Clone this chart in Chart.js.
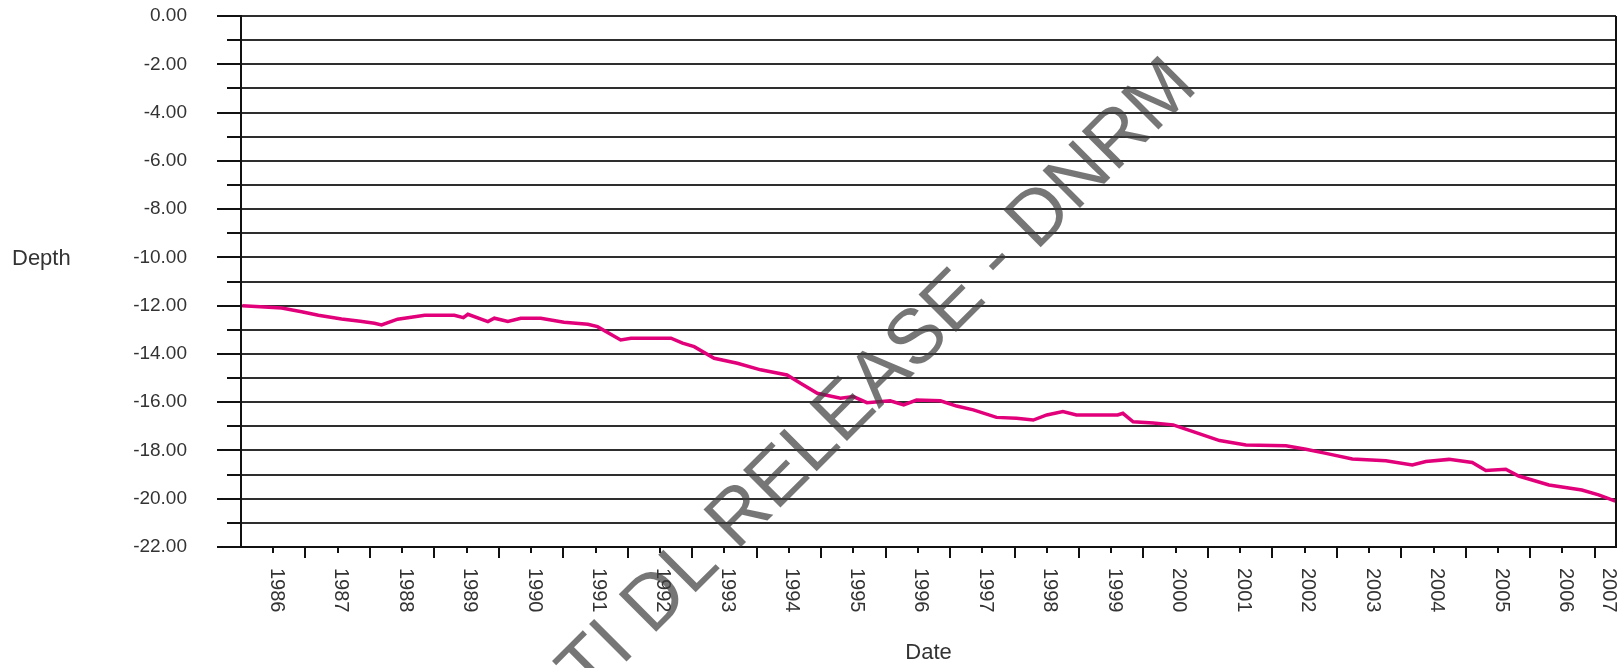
<!DOCTYPE html>
<html>
<head>
<meta charset="utf-8">
<script src="https://cdn.jsdelivr.net/npm/chart.js@4/dist/chart.umd.min.js"></script>
<style>
  body { margin: 0; background: #fff; }
  #wrap { width: 1623px; height: 668px; }
</style>
</head>
<body>
<div id="wrap"><canvas id="depthChart"></canvas></div>
<script>
// Readings taken off the hydrograph (decimal year, depth in m)
const dates = [
  1986.02, 1986.30, 1986.63, 1986.94, 1987.20, 1987.56, 1987.85, 1988.07, 1988.18, 1988.43,
  1988.85, 1989.31, 1989.45, 1989.52, 1989.83, 1989.93, 1990.14, 1990.34, 1990.65, 1991.01,
  1991.38, 1991.53, 1991.89, 1992.05, 1992.67, 1992.85, 1993.03, 1993.34, 1993.70, 1994.06,
  1994.47, 1994.68, 1994.94, 1995.30, 1995.50, 1995.71, 1996.07, 1996.28, 1996.48, 1996.85,
  1997.10, 1997.36, 1997.72, 1998.03, 1998.29, 1998.50, 1998.75, 1998.96, 1999.60, 1999.68,
  1999.84, 2000.15, 2000.46, 2000.77, 2001.18, 2001.59, 2002.21, 2002.52, 2002.83, 2003.24,
  2003.76, 2004.17, 2004.38, 2004.74, 2005.10, 2005.31, 2005.62, 2005.82, 2006.29, 2006.80,
  2007.06, 2007.32
];
const depths = [
  -12.00, -12.05, -12.10, -12.25, -12.40, -12.55, -12.65, -12.73, -12.80, -12.56,
  -12.40, -12.40, -12.50, -12.36, -12.66, -12.52, -12.66, -12.52, -12.52, -12.69,
  -12.77, -12.87, -13.42, -13.35, -13.35, -13.55, -13.70, -14.18, -14.39, -14.66,
  -14.87, -15.22, -15.63, -15.84, -15.77, -16.02, -15.94, -16.11, -15.91, -15.94,
  -16.16, -16.32, -16.63, -16.67, -16.74, -16.53, -16.39, -16.53, -16.53, -16.46,
  -16.81, -16.86, -16.94, -17.22, -17.59, -17.77, -17.81, -17.95, -18.12, -18.35,
  -18.43, -18.60, -18.46, -18.37, -18.50, -18.83, -18.78, -19.06, -19.43, -19.64,
  -19.84, -20.10
];
const yearLabels = ['1986', '1987', '1988', '1989', '1990', '1991', '1992', '1993', '1994', '1995', '1996',
  '1997', '1998', '1999', '2000', '2001', '2002', '2003', '2004', '2005', '2006', '2007'];

const xMin = 1986.0, xMax = 2007.33;
const FONT = "'Liberation Sans', Arial, sans-serif";

// tick marks, rotated year labels, right border, "Depth" and the watermark
const decor = {
  id: 'decor',
  afterDraw(chart) {
    const { ctx, chartArea: a, scales: { x, y } } = chart;
    ctx.save();
    ctx.strokeStyle = '#111';
    ctx.lineWidth = 2;

    // y tick marks: long on labelled values, short between
    y.ticks.forEach(t => {
      const py = Math.round(y.getPixelForValue(t.value));
      const len = Math.round(t.value) % 2 === 0 ? 24 : 14;
      ctx.beginPath();
      ctx.moveTo(a.left - len, py);
      ctx.lineTo(a.left, py);
      ctx.stroke();
    });

    // right border
    ctx.beginPath();
    ctx.moveTo(a.right, a.top);
    ctx.lineTo(a.right, a.bottom);
    ctx.stroke();

    // x ticks: long at year starts, short mid-year, labels mid-year
    ctx.fillStyle = '#333';
    ctx.font = '20px ' + FONT;
    yearLabels.forEach(lab => {
      const yr = Number(lab);
      if (yr > xMin && yr <= xMax) {
        const px = Math.round(x.getPixelForValue(yr));
        ctx.beginPath();
        ctx.moveTo(px, a.bottom);
        ctx.lineTo(px, a.bottom + 11);
        ctx.stroke();
      }
      if (yr + 0.5 <= xMax) {
        const px = Math.round(x.getPixelForValue(yr + 0.5));
        ctx.beginPath();
        ctx.moveTo(px, a.bottom);
        ctx.lineTo(px, a.bottom + 6);
        ctx.stroke();
      }
      const mid = (Math.max(yr, xMin) + Math.min(yr + 1, xMax)) / 2;
      const lx = x.getPixelForValue(mid) + 3;
      ctx.save();
      ctx.translate(lx, a.bottom + 21);
      ctx.rotate(Math.PI / 2);
      ctx.textAlign = 'left';
      ctx.textBaseline = 'middle';
      ctx.fillText(lab, 0, 0);
      ctx.restore();
    });

    // horizontal y title
    ctx.font = '22px ' + FONT;
    ctx.textAlign = 'left';
    ctx.textBaseline = 'middle';
    ctx.fillText('Depth', 12, 259);

    // diagonal watermark
    ctx.translate(550, 738);
    ctx.rotate(-Math.PI / 4);
    ctx.font = '77px ' + FONT;
    ctx.textBaseline = 'alphabetic';
    ctx.fillStyle = 'rgba(60, 60, 60, 0.7)';
    ctx.fillText('RTI DL RELEASE - DNRM', 0, 0);
    ctx.restore();
  }
};

new Chart(document.getElementById('depthChart'), {
  type: 'line',
  data: {
    datasets: [{
      data: dates.map((d, i) => ({ x: d, y: depths[i] })),
      borderColor: '#e2007a',
      borderWidth: 3.5,
      pointRadius: 0,
      tension: 0,
      fill: false
    }]
  },
  options: {
    responsive: true,
    maintainAspectRatio: false,
    animation: false,
    layout: { padding: { left: 0, top: 16, right: 7, bottom: 0 } },
    plugins: { legend: { display: false }, tooltip: { enabled: false } },
    scales: {
      x: {
        type: 'linear',
        min: xMin,
        max: xMax,
        grid: { display: false },
        border: { display: true, color: '#111', width: 2 },
        ticks: { display: false },
        title: {
          display: true,
          text: 'Date',
          color: '#333',
          font: { family: FONT, size: 22 },
          padding: { top: 0, bottom: 2 }
        },
        afterFit: s => { s.height = 121; }
      },
      y: {
        min: -22,
        max: 0,
        ticks: {
          stepSize: 1,
          autoSkip: false,
          padding: 4,
          color: '#333',
          font: { family: FONT, size: 19 },
          callback: v => (Math.round(v) % 2 === 0 ? v.toFixed(2) : '')
        },
        grid: { color: '#2e2e2e', lineWidth: 2, drawTicks: true, tickLength: 50, tickColor: 'rgba(0,0,0,0)' },
        border: { display: true, color: '#111', width: 2 },
        afterFit: s => { s.width = 241; }
      }
    }
  },
  plugins: [decor]
});
</script>
</body>
</html>
